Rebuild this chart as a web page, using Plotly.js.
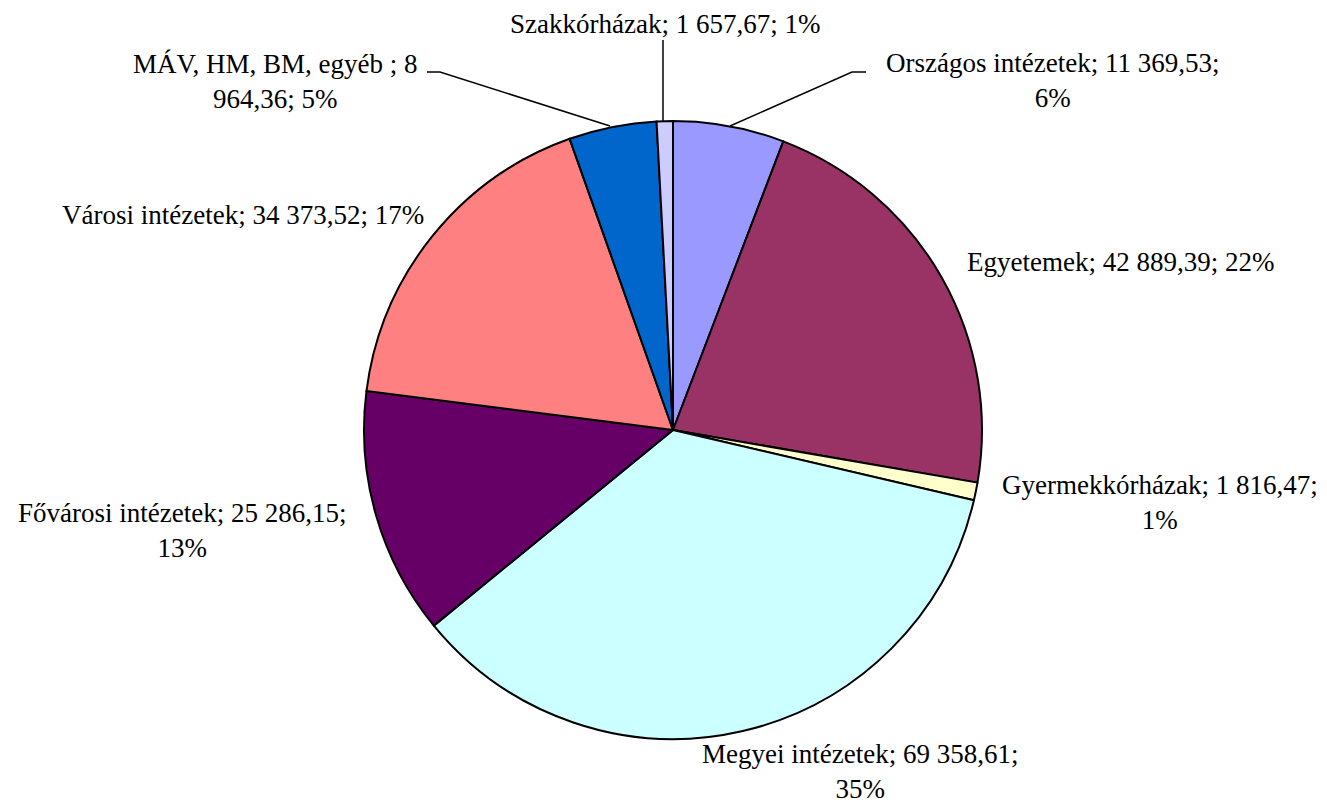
<!DOCTYPE html>
<html>
<head>
<meta charset="utf-8">
<script src="https://cdn.plot.ly/plotly-3.0.1.min.js"></script>
<style>html,body{margin:0;padding:0;background:#fff;}#chart{width:1327px;height:808px;}</style>
</head>
<body>
<div id="chart"></div>
<script>
const categories = ["Országos intézetek", "Egyetemek", "Gyermekkórházak", "Megyei intézetek", "Fővárosi intézetek", "Városi intézetek", "MÁV, HM, BM, egyéb ", "Szakkórházak"];
const values = [11369.53, 42889.39, 1816.47, 69358.61, 25286.15, 34373.52, 8964.36, 1657.67];
const valueLabels = ["11 369,53", "42 889,39", "1 816,47", "69 358,61", "25 286,15", "34 373,52", "8 964,36", "1 657,67"];
const percentLabels = ["6%", "22%", "1%", "35%", "13%", "17%", "5%", "1%"];
const colors = ["#9999FF", "#993366", "#FFFFCC", "#CCFFFF", "#660066", "#FF8080", "#0066CC", "#CCCCFF"];

const W = 1327, H = 808;
const px = x => x / W;
const py = y => 1 - y / H;
const FONT = "Liberation Serif";
const FSIZE = 27;

// label layout: centre position (px) and line breaking
const labelPos = [
  {x: 1052, y: 81, brk: "value"},
  {x: 1120, y: 262, brk: null},
  {x: 1160, y: 502, brk: "pct"},
  {x: 860, y: 771, brk: "pct"},
  {x: 182, y: 530, brk: "pct"},
  {x: 243, y: 215, brk: null},
  {x: 275, y: 82, brk: "mav"},
  {x: 665, y: 24, brk: null}
];

function labelText(i) {
  const b = labelPos[i].brk;
  const c = categories[i], v = valueLabels[i], p = percentLabels[i];
  if (b === "pct" || b === "value") return c + "; " + v + ";<br>" + p;
  if (b === "mav") {
    const parts = v.split(" ");
    return c + "; " + parts[0] + "<br>" + parts.slice(1).join(" ") + "; " + p;
  }
  return c + "; " + v + "; " + p;
}

const annotations = categories.map((c, i) => ({
  xref: "paper", yref: "paper",
  x: px(labelPos[i].x), y: py(labelPos[i].y),
  xanchor: "center", yanchor: "middle",
  text: labelText(i), showarrow: false, align: "center",
  font: {family: FONT, size: FSIZE, color: "#000"}
}));

function pathPx(pts) {
  return pts.map((p, k) => (k ? "L" : "M") + px(p[0]).toFixed(5) + "," + py(p[1]).toFixed(5)).join(" ");
}
const leaders = [
  [[427, 72], [440, 72], [610, 126]],
  [[866, 72], [852, 72], [730, 126]],
  [[663, 40], [663, 122]]
];
const shapes = leaders.map(pts => ({
  type: "path", xref: "paper", yref: "paper", path: pathPx(pts),
  line: {color: "#000", width: 1.5}
}));

const cx = 673, cy = 430, r = 309;
const trace = {
  type: "pie",
  labels: categories,
  values: values,
  sort: false,
  direction: "clockwise",
  rotation: 0,
  textinfo: "none",
  hoverinfo: "label+value+percent",
  marker: {colors: colors, line: {color: "#000", width: 2}},
  domain: {x: [px(cx - r), px(cx + r)], y: [py(cy + r), py(cy - r)]},
  showlegend: false
};

Plotly.newPlot("chart", [trace], {
  width: W, height: H,
  margin: {l: 0, r: 0, t: 0, b: 0},
  font: {family: FONT, size: FSIZE, color: "#000"},
  paper_bgcolor: "#fff", plot_bgcolor: "#fff",
  showlegend: false,
  annotations: annotations,
  shapes: shapes
}, {displayModeBar: false, staticPlot: true});
</script>
</body>
</html>
